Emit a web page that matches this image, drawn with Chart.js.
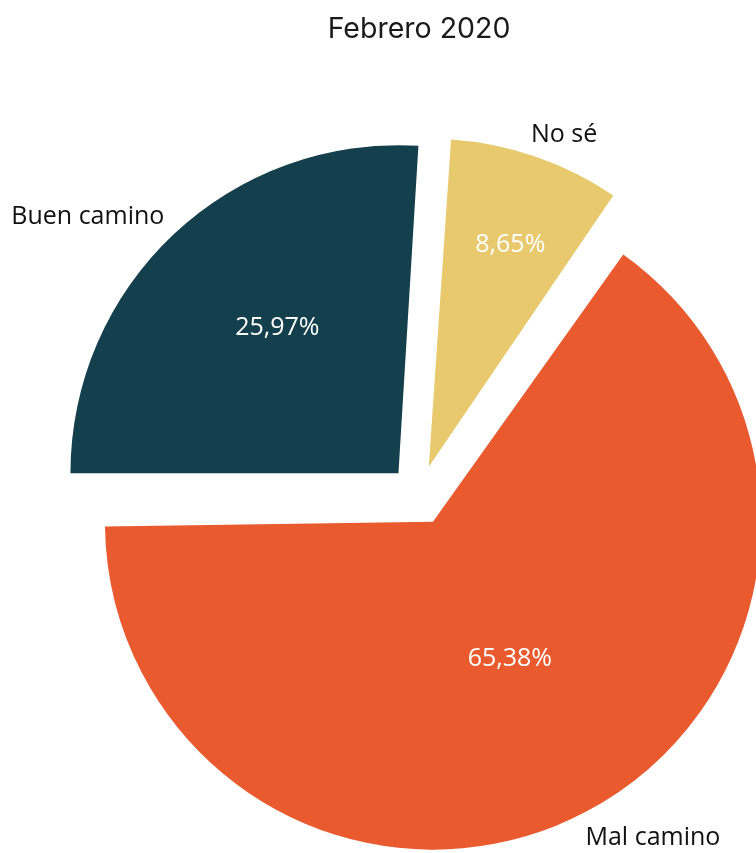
<!DOCTYPE html>
<html lang="es">
<head>
  <meta charset="UTF-8">
  <title>Febrero 2020</title>
  <script src="https://cdn.jsdelivr.net/npm/chart.js"></script>
  <style>
    body { margin: 0; background: #fff; }
    .wrap { width: 756px; height: 853px; }
  </style>
</head>
<body>
  <div class="wrap"><canvas id="pie"></canvas></div>

  <script>
    // datos
    const categorias = ['Buen camino', 'No sé', 'Mal camino'];
    const valores = [25.97, 8.65, 65.38];
    const colores = ['#143F4C', '#E8C96D', '#EA5A2F'];

    const fmt = v => v.toFixed(2).replace('.', ',') + '%';

    // chart.js v4 agranda el radio de los sectores desplazados; lo igualamos
    const radioIgual = {
      id: 'radioIgual',
      beforeDatasetsDraw(chart) {
        const meta = chart.getDatasetMeta(0);
        const R = meta.controller.outerRadius;
        meta.data.forEach(arc => {
          const off = (arc.options.offset || 0) / 4;
          const circ = arc.endAngle - arc.startAngle;
          const fix = 1 - Math.sin(Math.min(Math.PI, circ));
          arc.outerRadius = R - off * fix;
        });
      }
    };

    // etiquetas dibujadas a mano (porcentaje dentro, categoría fuera)
    const etiquetas = {
      id: 'etiquetas',
      afterDatasetsDraw(chart, args, opts) {
        const ctx = chart.ctx;
        const meta = chart.getDatasetMeta(0);
        const r = meta.controller.outerRadius;
        const g = Math.PI / 180;
        ctx.save();
        ctx.textAlign = 'center';
        ctx.textBaseline = 'middle';
        ctx.font = opts.fuente;
        meta.data.forEach((arc, i) => {
          const mid = (arc.startAngle + arc.endAngle) / 2;
          const off = arc.options.offset / 4;
          // porcentaje
          const [fi, di] = opts.dentro[i];
          const ai = mid + di * g;
          ctx.fillStyle = '#ffffff';
          ctx.fillText(fmt(valores[i]), arc.x + Math.cos(ai) * (off + r * fi), arc.y + Math.sin(ai) * (off + r * fi));
          // categoria
          const [fo, da] = opts.fuera[i];
          const a = mid + da * g;
          ctx.fillStyle = '#111111';
          ctx.fillText(categorias[i], arc.x + Math.cos(a) * r * fo, arc.y + Math.sin(a) * r * fo);
        });
        ctx.restore();
      }
    };

    new Chart(document.getElementById('pie'), {
      type: 'pie',
      data: {
        labels: categorias,
        datasets: [{
          data: valores,
          backgroundColor: colores,
          borderWidth: 0,
          offset: 120,
          hoverOffset: 0
        }]
      },
      options: {
        responsive: true,
        maintainAspectRatio: false,
        animation: false,
        rotation: 270,
        radius: 328,
        layout: { padding: { left: 82, right: 0, top: 0, bottom: 0 } },
        plugins: {
          legend: { display: false },
          tooltip: { enabled: false },
          title: {
            display: true,
            text: 'Febrero 2020',
            color: '#1a1a1a',
            font: { family: 'Inter, "Liberation Sans", sans-serif', size: 28.5, weight: 'normal' },
            padding: { top: 12, bottom: 91 }
          },
          etiquetas: {
            fuente: '25px "Open Sans", "Liberation Sans", sans-serif',
            dentro: [[0.577, 3.0], [0.72, 1.0], [0.48, -1.3]],
            fuera: [[1.318, -6.75], [1.183, 2.9], [1.266, -6.6]]
          }
        }
      },
      plugins: [radioIgual, etiquetas]
    });
  </script>
</body>
</html>
